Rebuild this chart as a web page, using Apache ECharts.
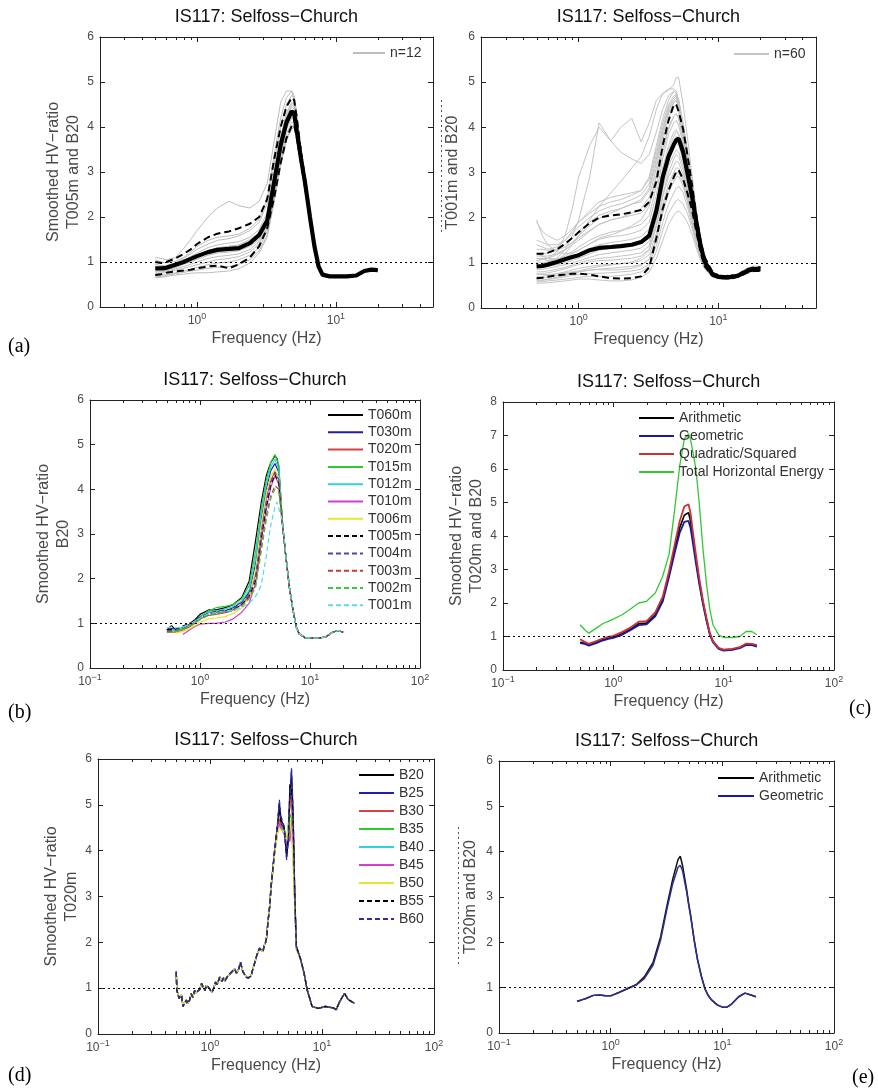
<!DOCTYPE html>
<html><head><meta charset="utf-8">
<script src="https://cdn.jsdelivr.net/npm/echarts@6/dist/echarts.min.js"></script>
<style>html,body{margin:0;padding:0;background:#fff}#c{width:878px;height:1090px}</style>
</head><body><div id="c"></div>
<script>
// ---------- frequency grids ----------
const FA = [0.5,0.55,0.6,0.7,0.8,0.9,1.0,1.2,1.4,1.7,2.0,2.4,2.8,3.2,3.6,4.0,4.4,4.8,5.0,5.2,5.6,6.0,6.5,7.0,7.5,8.0,9,10,12,14,16,18,20];
const FE = [0.5,0.55,0.6,0.7,0.8,0.9,1.0,1.2,1.4,1.7,2.0,2.4,2.8,3.2,3.6,4.0,4.2,4.4,4.8,5.0,5.2,5.6,6.0,6.5,7.0,7.5,8.0,9,10,11,12,14,16,18,20];
const MINOR = [0.2,0.3,0.4,0.5,0.6,0.7,0.8,0.9,2,3,4,5,6,7,8,9,20,30,40,50,60,70,80,90];

// ---------- panel (a): T005m, n=12 ----------
const aMean = [0.86,0.86,0.87,0.94,1.0,1.07,1.13,1.22,1.27,1.29,1.31,1.42,1.6,1.92,2.8,3.6,4.1,4.35,4.3,3.95,3.3,2.75,2.0,1.35,0.9,0.72,0.68,0.68,0.68,0.7,0.8,0.83,0.82];
const aUp   = [1.0,0.98,1.0,1.08,1.18,1.28,1.4,1.55,1.63,1.68,1.75,1.85,2.0,2.4,3.3,4.0,4.45,4.65,4.6,4.25,3.45,2.85,2.05,1.38,0.92,0.73,0.69,0.69,0.69,0.71,0.81,0.84,0.83];
const aLo   = [0.71,0.73,0.76,0.79,0.81,0.83,0.86,0.9,0.92,0.86,0.95,1.1,1.35,1.75,2.45,3.2,3.75,4.02,4.05,3.8,3.2,2.65,1.95,1.32,0.88,0.71,0.67,0.67,0.67,0.69,0.79,0.82,0.81];
const aGray = [
 [1.1,1.08,1.05,1.1,1.3,1.5,1.7,2.0,2.2,2.35,2.25,2.2,2.35,2.75,3.7,4.55,4.8,4.8,4.6,4.3,3.5,2.8,2.0,1.36,0.9,0.72,0.68,0.68,0.68,0.7,0.8,0.83,0.82],
 [0.95,0.92,0.92,0.98,1.08,1.18,1.28,1.4,1.48,1.52,1.58,1.7,1.88,2.3,3.2,4.0,4.5,4.7,4.65,4.3,3.5,2.85,2.05,1.38,0.92,0.72,0.68,0.68,0.68,0.7,0.8,0.83,0.82],
 [0.9,0.88,0.9,0.96,1.04,1.12,1.2,1.32,1.38,1.42,1.45,1.55,1.72,2.1,3.0,3.8,4.3,4.55,4.5,4.2,3.45,2.8,2.0,1.36,0.9,0.72,0.68,0.68,0.68,0.7,0.8,0.83,0.82],
 [0.85,0.84,0.86,0.92,0.98,1.05,1.12,1.22,1.3,1.35,1.36,1.45,1.6,1.95,2.85,3.7,4.2,4.45,4.4,4.1,3.4,2.75,2.0,1.35,0.9,0.72,0.68,0.68,0.68,0.7,0.8,0.83,0.82],
 [0.8,0.8,0.82,0.88,0.95,1.0,1.06,1.15,1.2,1.22,1.25,1.35,1.5,1.85,2.7,3.5,4.05,4.3,4.3,4.05,3.35,2.75,2.0,1.35,0.9,0.72,0.68,0.68,0.68,0.7,0.8,0.83,0.82],
 [0.78,0.78,0.8,0.85,0.9,0.95,1.0,1.08,1.12,1.15,1.18,1.28,1.45,1.8,2.65,3.45,4.0,4.25,4.25,4.0,3.3,2.7,1.98,1.34,0.9,0.72,0.68,0.68,0.68,0.7,0.8,0.83,0.82],
 [0.75,0.75,0.77,0.82,0.86,0.9,0.94,1.0,1.05,1.08,1.12,1.22,1.4,1.75,2.6,3.4,3.95,4.2,4.2,3.95,3.3,2.7,1.98,1.34,0.9,0.72,0.68,0.68,0.68,0.7,0.8,0.83,0.82],
 [0.7,0.7,0.72,0.76,0.8,0.84,0.88,0.94,0.98,1.0,1.05,1.15,1.32,1.68,2.5,3.3,3.85,4.1,4.12,3.9,3.25,2.65,1.95,1.33,0.9,0.72,0.68,0.68,0.68,0.7,0.8,0.83,0.82],
 [0.68,0.68,0.7,0.74,0.77,0.8,0.82,0.86,0.88,0.9,0.95,1.05,1.25,1.6,2.4,3.2,3.75,4.0,4.05,3.85,3.2,2.62,1.93,1.32,0.89,0.71,0.67,0.67,0.67,0.69,0.79,0.82,0.81],
 [0.65,0.66,0.68,0.71,0.73,0.75,0.76,0.76,0.78,0.8,0.85,0.98,1.2,1.55,2.35,3.15,3.7,3.95,4.0,3.8,3.15,2.6,1.92,1.31,0.88,0.7,0.66,0.66,0.66,0.68,0.78,0.81,0.8],
 [1.05,1.0,0.98,1.02,1.1,1.22,1.35,1.48,1.55,1.58,1.62,1.75,1.95,2.4,3.4,4.2,4.65,4.8,4.7,4.35,3.5,2.85,2.05,1.38,0.91,0.72,0.68,0.68,0.68,0.7,0.8,0.83,0.82],
 [0.88,0.86,0.88,0.93,1.0,1.08,1.15,1.25,1.32,1.35,1.38,1.5,1.65,2.0,2.9,3.75,4.25,4.5,4.45,4.15,3.4,2.78,2.0,1.35,0.9,0.72,0.68,0.68,0.68,0.7,0.8,0.83,0.82]
];

// ---------- panel (a2): T001m, n=60 (representative subset of the grey windows) ----------
const a2Mean = [0.92,0.93,0.96,1.02,1.08,1.13,1.17,1.28,1.33,1.35,1.37,1.4,1.46,1.6,2.15,2.9,3.35,3.62,3.72,3.75,3.45,3.0,2.45,1.85,1.35,1.02,0.76,0.69,0.68,0.72,0.82,0.86,0.86];
const a2Up   = [1.2,1.2,1.22,1.3,1.42,1.55,1.68,1.88,2.0,2.05,2.07,2.12,2.17,2.35,2.8,3.6,4.15,4.5,4.5,4.35,3.95,3.4,2.7,2.0,1.45,1.12,0.82,0.72,0.71,0.75,0.86,0.9,0.9];
const a2Lo   = [0.66,0.67,0.69,0.72,0.74,0.76,0.76,0.74,0.7,0.66,0.65,0.66,0.7,0.9,1.55,2.2,2.6,2.9,3.02,3.05,2.85,2.55,2.15,1.65,1.2,0.92,0.72,0.66,0.65,0.69,0.78,0.82,0.82];
const a2Gray = [
 [1.0,1.1,1.05,1.1,1.3,1.6,1.95,2.9,4.1,3.7,4.0,4.2,3.68,4.1,4.6,4.75,4.82,4.95,5.1,5.1,4.5,3.8,2.9,2.1,1.5,1.12,0.8,0.72,0.7,0.75,0.88,0.92,0.9],
 [1.1,1.1,1.1,1.25,1.6,2.2,2.9,3.6,4.0,3.7,3.45,3.3,3.2,3.4,3.9,4.4,4.7,4.8,4.75,4.6,4.1,3.5,2.7,2.0,1.45,1.1,0.8,0.72,0.7,0.75,0.88,0.92,0.9],
 [0.95,0.95,0.98,1.05,1.2,1.4,1.6,1.95,2.25,2.55,2.8,3.1,3.35,3.8,4.4,4.75,4.85,4.85,4.8,4.6,4.05,3.45,2.7,2.0,1.45,1.1,0.8,0.72,0.7,0.75,0.88,0.92,0.9],
 [1.9,1.7,1.6,1.5,1.6,1.75,1.9,2.1,2.25,2.35,2.4,2.5,2.6,2.9,3.6,4.2,4.6,4.8,4.75,4.6,4.0,3.4,2.65,1.95,1.42,1.08,0.8,0.72,0.7,0.75,0.88,0.93,0.92],
 [1.5,1.45,1.4,1.4,1.5,1.65,1.8,2.0,2.15,2.25,2.3,2.4,2.5,2.75,3.4,4.0,4.45,4.65,4.7,4.55,3.95,3.35,2.6,1.9,1.4,1.06,0.78,0.71,0.7,0.74,0.86,0.92,0.9],
 [1.3,1.3,1.28,1.3,1.4,1.55,1.7,1.9,2.05,2.15,2.2,2.3,2.4,2.65,3.3,3.95,4.4,4.6,4.65,4.5,3.9,3.3,2.55,1.88,1.38,1.05,0.78,0.7,0.69,0.74,0.86,0.91,0.9],
 [1.2,1.2,1.22,1.28,1.35,1.45,1.55,1.72,1.85,1.95,2.0,2.1,2.2,2.45,3.1,3.8,4.3,4.55,4.6,4.45,3.85,3.25,2.5,1.85,1.36,1.04,0.78,0.7,0.69,0.74,0.86,0.91,0.9],
 [1.05,1.08,1.1,1.18,1.28,1.4,1.5,1.7,1.85,1.95,2.0,2.05,2.1,2.3,2.95,3.7,4.2,4.45,4.5,4.35,3.8,3.2,2.48,1.83,1.35,1.03,0.77,0.7,0.69,0.73,0.85,0.9,0.89],
 [1.0,1.0,1.02,1.08,1.15,1.25,1.35,1.5,1.6,1.68,1.72,1.78,1.85,2.05,2.7,3.45,3.95,4.25,4.3,4.2,3.7,3.1,2.4,1.8,1.32,1.02,0.77,0.7,0.69,0.73,0.84,0.89,0.88],
 [1.1,1.08,1.05,1.08,1.12,1.2,1.28,1.42,1.52,1.58,1.6,1.65,1.72,1.9,2.5,3.3,3.85,4.1,4.15,4.05,3.6,3.0,2.35,1.76,1.3,1.0,0.76,0.69,0.68,0.73,0.84,0.88,0.87],
 [0.95,0.95,0.96,1.0,1.05,1.12,1.2,1.32,1.4,1.45,1.48,1.52,1.58,1.75,2.35,3.1,3.6,3.9,3.95,3.85,3.45,2.9,2.25,1.7,1.27,0.98,0.75,0.69,0.68,0.72,0.83,0.87,0.86],
 [0.9,0.9,0.92,0.96,1.0,1.05,1.1,1.2,1.28,1.32,1.35,1.4,1.45,1.6,2.2,2.95,3.45,3.7,3.8,3.75,3.35,2.85,2.2,1.66,1.25,0.97,0.75,0.68,0.68,0.72,0.83,0.87,0.86],
 [0.85,0.86,0.88,0.92,0.96,1.0,1.04,1.12,1.18,1.22,1.25,1.28,1.33,1.48,2.05,2.8,3.3,3.55,3.65,3.6,3.25,2.75,2.15,1.62,1.22,0.95,0.74,0.68,0.67,0.72,0.82,0.86,0.85],
 [0.8,0.8,0.82,0.86,0.9,0.95,1.0,1.06,1.1,1.12,1.15,1.18,1.22,1.38,1.95,2.65,3.15,3.4,3.5,3.45,3.15,2.68,2.1,1.58,1.2,0.94,0.74,0.68,0.67,0.71,0.82,0.86,0.85],
 [1.2,1.15,1.1,1.08,1.1,1.15,1.2,1.3,1.35,1.38,1.4,1.42,1.48,1.65,2.25,3.0,3.5,3.8,3.9,3.85,3.45,2.9,2.25,1.68,1.26,0.98,0.75,0.69,0.68,0.72,0.83,0.87,0.86],
 [0.75,0.76,0.78,0.82,0.87,0.92,0.96,1.02,1.05,1.06,1.08,1.1,1.15,1.3,1.85,2.5,3.0,3.3,3.4,3.35,3.05,2.6,2.05,1.55,1.18,0.93,0.73,0.67,0.67,0.71,0.81,0.85,0.84],
 [0.7,0.7,0.72,0.76,0.8,0.84,0.88,0.92,0.95,0.97,0.98,1.0,1.05,1.18,1.65,2.3,2.75,3.0,3.1,3.1,2.85,2.45,1.95,1.5,1.15,0.92,0.73,0.67,0.66,0.7,0.8,0.84,0.83],
 [0.65,0.66,0.68,0.72,0.75,0.78,0.8,0.84,0.86,0.88,0.9,0.92,0.96,1.08,1.5,2.1,2.55,2.8,2.9,2.92,2.7,2.35,1.88,1.45,1.12,0.9,0.72,0.66,0.66,0.7,0.8,0.84,0.83],
 [0.6,0.61,0.63,0.66,0.69,0.72,0.74,0.76,0.77,0.78,0.8,0.82,0.86,0.98,1.38,1.9,2.3,2.55,2.65,2.7,2.55,2.25,1.82,1.42,1.1,0.89,0.71,0.66,0.65,0.7,0.8,0.83,0.82],
 [0.58,0.58,0.6,0.62,0.64,0.66,0.68,0.7,0.7,0.7,0.72,0.75,0.8,0.92,1.25,1.72,2.1,2.3,2.38,2.4,2.3,2.1,1.75,1.38,1.08,0.88,0.7,0.65,0.65,0.69,0.79,0.83,0.82],
 [0.55,0.55,0.56,0.58,0.6,0.62,0.64,0.64,0.62,0.6,0.6,0.62,0.68,0.8,1.1,1.5,1.85,2.05,2.12,2.15,2.05,1.9,1.62,1.3,1.04,0.86,0.69,0.65,0.64,0.69,0.79,0.82,0.81],
 [0.62,0.62,0.64,0.68,0.72,0.76,0.8,0.84,0.85,0.84,0.85,0.88,0.94,1.08,1.55,2.2,2.65,2.9,3.0,3.0,2.78,2.4,1.92,1.47,1.13,0.9,0.72,0.66,0.66,0.7,0.8,0.84,0.83],
 [1.95,1.6,1.4,1.25,1.2,1.22,1.28,1.42,1.55,1.62,1.7,1.82,1.95,2.25,2.9,3.55,4.0,4.25,4.3,4.2,3.7,3.1,2.42,1.8,1.33,1.02,0.77,0.7,0.69,0.73,0.85,0.9,0.89],
 [0.75,0.74,0.74,0.76,0.78,0.8,0.82,0.88,0.92,0.95,0.98,1.02,1.1,1.28,1.8,2.45,2.9,3.15,3.25,3.22,2.95,2.52,2.0,1.53,1.17,0.93,0.73,0.67,0.66,0.71,0.81,0.85,0.84],
 [1.4,1.35,1.3,1.35,1.5,1.7,1.9,2.15,2.35,2.45,2.5,2.55,2.6,2.85,3.5,4.1,4.5,4.7,4.72,4.55,3.95,3.35,2.6,1.9,1.4,1.06,0.78,0.71,0.7,0.74,0.86,0.92,0.9],
 [1.15,1.15,1.15,1.2,1.3,1.45,1.6,1.82,1.98,2.1,2.2,2.3,2.35,2.6,3.2,3.9,4.35,4.55,4.6,4.45,3.9,3.3,2.55,1.87,1.37,1.05,0.78,0.7,0.69,0.74,0.86,0.91,0.9]
];

// ---------- panel (b): window length, B20 ----------
const bNames = ['T060m','T030m','T020m','T015m','T012m','T010m','T006m','T005m','T004m','T003m','T002m','T001m'];
const bVals = [
 [0.85,0.95,0.85,0.9,0.98,1.08,1.2,1.3,1.3,1.35,1.42,1.58,1.95,2.85,3.7,4.3,4.6,4.75,4.7,4.5,3.3,2.55,1.8,1.3,0.92,0.76,0.68,0.67,0.67,0.7,0.8,0.84,0.8],
 [0.86,0.88,0.86,0.9,0.96,1.05,1.15,1.25,1.25,1.28,1.35,1.48,1.7,2.35,3.35,4.0,4.42,4.58,4.55,4.38,3.28,2.55,1.8,1.3,0.92,0.76,0.68,0.67,0.67,0.7,0.8,0.84,0.8],
 [0.8,0.8,0.8,0.85,0.92,1.0,1.1,1.18,1.2,1.24,1.3,1.42,1.62,2.1,3.1,3.8,4.2,4.4,4.4,4.25,3.25,2.55,1.8,1.3,0.92,0.76,0.68,0.67,0.67,0.7,0.8,0.84,0.8],
 [0.82,0.82,0.83,0.88,0.95,1.05,1.15,1.28,1.35,1.38,1.42,1.55,1.85,2.6,3.55,4.2,4.6,4.78,4.75,4.55,3.3,2.56,1.8,1.3,0.92,0.76,0.68,0.67,0.67,0.7,0.8,0.84,0.8],
 [0.85,0.85,0.86,0.9,0.97,1.05,1.15,1.25,1.28,1.32,1.38,1.5,1.75,2.45,3.45,4.1,4.5,4.68,4.65,4.45,3.3,2.55,1.8,1.3,0.92,0.76,0.68,0.67,0.67,0.7,0.8,0.84,0.8],
 [null,null,null,0.75,0.85,0.93,0.98,1.0,1.0,1.03,1.1,1.25,1.45,1.9,2.85,3.55,4.05,4.3,4.28,4.12,3.22,2.54,1.8,1.3,0.92,0.76,0.68,0.66,0.66,0.7,0.8,0.84,0.8],
 [null,null,0.78,0.82,0.88,0.95,1.02,1.1,1.12,1.15,1.22,1.35,1.58,2.2,3.2,3.9,4.3,4.45,4.42,4.25,3.25,2.55,1.8,1.3,0.92,0.76,0.68,0.67,0.67,0.7,0.8,0.84,0.8],
 [0.86,0.86,0.87,0.94,1.0,1.07,1.13,1.22,1.27,1.29,1.31,1.42,1.6,1.95,2.9,3.6,4.1,4.33,4.3,4.15,3.25,2.55,1.8,1.3,0.92,0.76,0.68,0.67,0.67,0.7,0.8,0.84,0.8],
 [0.84,0.84,0.84,0.88,0.95,1.03,1.12,1.22,1.22,1.26,1.32,1.45,1.66,2.0,3.0,3.7,4.15,4.38,4.36,4.22,3.25,2.55,1.8,1.3,0.92,0.76,0.68,0.67,0.67,0.7,0.8,0.84,0.8],
 [0.82,0.82,0.83,0.87,0.94,1.02,1.1,1.2,1.22,1.25,1.28,1.4,1.58,1.85,2.7,3.4,3.85,4.08,4.1,4.0,3.25,2.55,1.8,1.3,0.92,0.76,0.68,0.67,0.67,0.7,0.8,0.84,0.8],
 [0.8,0.8,0.82,0.86,0.93,1.0,1.08,1.18,1.22,1.25,1.28,1.38,1.55,1.8,2.6,3.3,3.8,4.0,4.02,3.95,3.25,2.55,1.8,1.3,0.92,0.76,0.68,0.67,0.67,0.7,0.8,0.84,0.8],
 [0.9,0.92,0.9,0.92,0.98,1.05,1.12,1.22,1.25,1.28,1.3,1.36,1.45,1.6,1.85,2.5,3.2,3.6,3.72,3.75,3.3,2.58,1.82,1.3,0.92,0.76,0.68,0.67,0.67,0.7,0.8,0.84,0.8]
];

// ---------- panel (c): horizontal-component combination ----------
const cNames = ['Arithmetic','Geometric','Quadratic/Squared','Total Horizontal Energy'];
const cVals = [
 [0.83,0.8,0.75,0.82,0.9,0.95,0.98,1.08,1.2,1.38,1.4,1.65,2.1,2.85,3.6,4.25,4.62,4.7,4.45,4.05,3.3,2.65,2.0,1.5,1.08,0.85,0.65,0.6,0.62,0.67,0.77,0.76,0.72],
 [0.8,0.78,0.73,0.8,0.88,0.93,0.96,1.05,1.17,1.34,1.36,1.6,2.04,2.78,3.5,4.1,4.42,4.45,4.25,3.9,3.2,2.58,1.96,1.46,1.05,0.83,0.63,0.58,0.6,0.65,0.75,0.74,0.7],
 [0.92,0.84,0.78,0.86,0.94,0.99,1.02,1.13,1.25,1.44,1.46,1.72,2.18,2.95,3.75,4.45,4.88,4.95,4.7,4.25,3.45,2.75,2.06,1.54,1.1,0.86,0.66,0.61,0.63,0.68,0.79,0.78,0.74],
 [1.35,1.2,1.1,1.25,1.38,1.45,1.52,1.65,1.8,2.0,2.05,2.3,2.8,3.45,4.8,6.1,6.9,7.05,6.9,6.6,6.0,5.0,3.6,2.55,1.8,1.35,1.05,0.97,0.97,1.0,1.15,1.15,1.05]
];

// ---------- panel (d): bandwidth, T020m ----------
const dNames = ['B20','B25','B30','B35','B40','B45','B50','B55','B60'];
const dFreqLow  = [0.5,0.505,0.53,0.556,0.575,0.59,0.616,0.63,0.65,0.66,0.68,0.7,0.73,0.75,0.78,0.81,0.84,0.87,0.9,0.93,0.97,1.0,1.04,1.08,1.12,1.16,1.22,1.28,1.32,1.36,1.42,1.5,1.56,1.66,1.72,1.78,1.82,1.87,1.97,2.04,2.11,2.2,2.33,2.4,2.5,2.62,2.77,2.87,2.97,3.05,3.13,3.2,3.28,3.4,3.51];
const dValsLow  = [1.36,0.96,0.78,0.85,0.6,0.68,0.74,0.66,0.63,0.75,0.88,0.8,0.95,0.9,0.88,0.97,1.1,1.02,0.95,1.06,1.02,0.98,0.91,1.0,1.13,1.08,1.24,1.15,1.22,1.16,1.24,1.31,1.27,1.42,1.33,1.38,1.45,1.57,1.35,1.3,1.24,1.22,1.27,1.4,1.54,1.72,1.87,1.85,1.8,1.93,1.99,2.1,2.41,2.75,3.21];
const dFreqPeak = [3.75,4.02,4.16,4.3,4.6,4.83,5.03,5.17,5.34,5.52,5.71,5.9];
const dValsPeak = [
 [3.9,4.55,4.95,4.6,4.45,3.95,4.4,5.45,5.3,4.5,3.0,1.9],
 [3.95,4.6,5.05,4.7,4.5,3.85,4.3,5.2,5.75,4.85,3.1,1.92],
 [3.9,4.5,4.7,4.55,4.5,4.1,4.5,5.1,5.2,4.3,2.95,1.9],
 [3.9,4.45,4.6,4.5,4.45,4.2,4.65,4.8,4.7,4.1,2.9,1.88],
 [3.88,4.4,4.55,4.55,4.4,4.15,4.55,4.6,4.5,4.0,2.9,1.88],
 [3.88,4.45,4.6,4.5,4.35,4.1,4.3,4.2,4.6,3.9,2.85,1.86],
 [3.85,4.4,4.5,4.45,4.4,4.25,4.5,4.7,4.4,3.7,2.8,1.85],
 [3.92,4.6,5.0,4.65,4.5,3.9,4.35,5.3,5.6,4.7,3.05,1.9],
 [3.94,4.63,5.11,4.75,4.53,3.8,4.26,5.11,5.8,4.9,3.08,1.92]
];
const dFreqHigh = [6.44,6.9,7.38,8.16,9.3,10.7,12.6,13.4,14.2,15.9,17,19.4];
const dValsHigh = [1.63,1.34,0.96,0.6,0.56,0.6,0.57,0.53,0.68,0.89,0.76,0.67];

// ---------- panel (e): Arithmetic vs Geometric ----------
const eArith = [0.7,0.73,0.76,0.83,0.84,0.82,0.82,0.9,0.97,1.07,1.24,1.56,2.12,2.82,3.4,3.82,3.9,3.7,3.15,2.85,2.6,2.05,1.62,1.25,0.97,0.82,0.73,0.62,0.57,0.57,0.63,0.8,0.88,0.84,0.8];
const eGeom  = [0.7,0.73,0.76,0.83,0.84,0.82,0.82,0.9,0.98,1.06,1.2,1.5,2.05,2.75,3.3,3.65,3.7,3.58,3.1,2.82,2.58,2.04,1.61,1.24,0.97,0.82,0.73,0.62,0.57,0.57,0.63,0.8,0.88,0.84,0.8];

// ---------- layout / style ----------
const FONT = 'Liberation Sans, Arial, Helvetica, sans-serif';
const SERIF = 'Liberation Serif, Times New Roman, serif';
const AX = '#222', TXT = '#4a4a4a';
const P = [
 {g:[100,37,333,270], x:[0.2,50],  yMax:6, t:[266.5,17],  yName:'Smoothed HV\u2212ratio\nT005m and B20', yGap:15},
 {g:[481,37,335,271], x:[0.2,50],  yMax:6, t:[648.5,17],  yName:'T001m and B20', yGap:18},
 {g:[90,400,330,268], x:[0.1,100], yMax:6, t:[255,380.5], yName:'Smoothed HV\u2212ratio\nB20', yGap:15},
 {g:[503,402,331,268],x:[0.1,100], yMax:8, t:[668.7,382], yName:'Smoothed HV\u2212ratio\nT020m and B20', yGap:16},
 {g:[98,759,336,275], x:[0.1,100], yMax:6, t:[266,740],   yName:'Smoothed HV\u2212ratio\nT020m', yGap:16},
 {g:[499,761,335,272],x:[0.1,100], yMax:6, t:[666.7,741.5], yName:'T020m and B20', yGap:18}
];
function logLabel(v){
  const e = Math.log10(v), r = Math.round(e);
  if (Math.abs(e - r) > 1e-6) return '';
  return '10{s|' + (r < 0 ? '\u2212' + (-r) : r) + '}';
}
function pts(freq, vals){ const o=[]; for (let i=0;i<freq.length;i++) if (vals[i]!=null) o.push([freq[i], vals[i]]); return o; }

const grids=[], xAxes=[], yAxes=[], series=[];
P.forEach((p,i)=>{
  grids.push({left:p.g[0], top:p.g[1], width:p.g[2], height:p.g[3], show:false, containLabel:false, outerBoundsMode:'none'});
  const axLine = {show:true, onZero:false, lineStyle:{color:AX, width:1}};
  const axTick = {show:true, inside:true, length:5, lineStyle:{color:AX, width:1}};
  xAxes.push({type:'log', logBase:10, gridIndex:i, min:p.x[0], max:p.x[1], position:'bottom',
    axisLine:axLine, axisTick:axTick, splitLine:{show:false},
    axisLabel:{formatter:logLabel, color:TXT, fontSize:12, fontFamily:FONT, margin:5,
      rich:{s:{fontSize:9, color:TXT, fontFamily:FONT, padding:[0,0,8,0]}}},
    name:'Frequency (Hz)', nameLocation:'middle', nameGap:24,
    nameTextStyle:{fontSize:16, color:TXT, fontFamily:FONT}});
  xAxes.push({type:'log', logBase:10, gridIndex:i, min:p.x[0], max:p.x[1], position:'top',
    axisLine:axLine, axisTick:axTick, splitLine:{show:false}, axisLabel:{show:false}});
  yAxes.push({type:'value', gridIndex:i, min:0, max:p.yMax, interval:1, position:'left',
    axisLine:axLine, axisTick:axTick, splitLine:{show:false},
    axisLabel:{color:TXT, fontSize:12, fontFamily:FONT, margin:6},
    name:p.yName, nameLocation:'middle', nameGap:p.yGap,
    nameTextStyle:{fontSize:16, lineHeight:20, color:TXT, fontFamily:FONT}});
  yAxes.push({type:'value', gridIndex:i, min:0, max:p.yMax, interval:1, position:'right',
    axisLine:axLine, axisTick:axTick, splitLine:{show:false}, axisLabel:{show:false}});
  // minor log ticks, bottom and top, plus the y = 1 reference line
  series.push({type:'custom', xAxisIndex:2*i, yAxisIndex:2*i, silent:true, clip:false, z:5,
    data: MINOR.filter(v=>v>p.x[0]*1.001 && v<p.x[1]*0.999).map(v=>[v,0]),
    renderItem:(params, api)=>{
      const cs = params.coordSys; const x = Math.round(api.coord([api.value(0),0])[0]) + 0.5;
      return {type:'group', children:[
        {type:'line', shape:{x1:x, y1:cs.y+cs.height, x2:x, y2:cs.y+cs.height-3}, style:{stroke:AX, lineWidth:1}},
        {type:'line', shape:{x1:x, y1:cs.y, x2:x, y2:cs.y+3}, style:{stroke:AX, lineWidth:1}}
      ]};
    },
    markLine:{silent:true, symbol:['none','none'], label:{show:false}, animation:false,
      lineStyle:{color:'#000', type:[2,3], width:1}, data:[{yAxis:1}]}
  });
});

function line(p, name, freq, vals, color, width, type, z){
  return {type:'line', name, xAxisIndex:2*p, yAxisIndex:2*p, data:pts(freq, vals),
    symbol:'none', showSymbol:false, silent:true, z:z||2,
    lineStyle:{color, width, type:type||'solid'}, itemStyle:{color}, emphasis:{disabled:true}};
}

// (a)
aGray.forEach(v=>series.push(line(0,'n=12',FA,v,'#bdbdbd',1)));
series.push(line(0,'a-up',FA,aUp,'#000',2,[7,4],3));
series.push(line(0,'a-lo',FA,aLo,'#000',2,[7,4],3));
series.push(line(0,'a-mean',FA,aMean,'#000',4.2,'solid',4));
// (a2)
a2Gray.forEach(v=>series.push(line(1,'n=60',FA,v,'#c4c4c4',1)));
series.push(line(1,'a2-up',FA,a2Up,'#000',2,[7,4],3));
series.push(line(1,'a2-lo',FA,a2Lo,'#000',2,[7,4],3));
series.push(line(1,'a2-mean',FA,a2Mean,'#000',4.2,'solid',4));
// (b)
const bCol = ['#000000','#1f1fa8','#d94040','#2fc82f','#2ed3dc','#d43cd4','#e6e62e','#000000','#4a4aa6','#c43c3c','#3fc43f','#5fd8e8'];
bNames.forEach((n,k)=>series.push(line(2,n,FA,bVals[k],bCol[k],1.2,k>=7?[5,3]:'solid')));
// (c)
const cCol = ['#000000','#1a1aa0','#c83232','#33c833'], cW=[1.6,1.8,1.8,1.3];
cNames.forEach((n,k)=>series.push(line(3,n,FA,cVals[k],cCol[k],cW[k])));
// (d)
const dCol = ['#000000','#1f1fa8','#d94040','#2fc82f','#2ed3dc','#d43cd4','#e6e62e','#000000','#2e2e96'];
const dFreq = dFreqLow.concat(dFreqPeak, dFreqHigh);
dNames.forEach((n,k)=>series.push(line(4,n,dFreq,dValsLow.concat(dValsPeak[k], dValsHigh),dCol[k],1.3,k>=7?[5,3]:'solid')));
// (e)
series.push(line(5,'Arithmetic',FE,eArith,'#111111',1.5));
series.push(line(5,'Geometric',FE,eGeom,'#2e2e8e',1.5));

const legBase = {orient:'vertical', padding:0, itemHeight:12, itemGap:4, selectedMode:false,
  itemStyle:{opacity:0, borderWidth:0},
  textStyle:{fontSize:14, color:'#333', fontFamily:FONT}};
const legends = [
  Object.assign({}, legBase, {data:['n=12'], left:352, top:46, itemWidth:32}),
  Object.assign({}, legBase, {data:['n=60'], left:733, top:47, itemWidth:35}),
  Object.assign({}, legBase, {data:bNames, left:327, top:408, itemWidth:35, itemGap:3.3}),
  Object.assign({}, legBase, {data:cNames, left:638, top:411, itemWidth:35}),
  Object.assign({}, legBase, {data:dNames, left:358, top:768, itemWidth:35}),
  Object.assign({}, legBase, {data:['Arithmetic','Geometric'], left:717, top:771, itemWidth:36})
];

const graphic = [];
P.forEach(p=>graphic.push({type:'text', x:p.t[0], y:p.t[1], silent:true,
  style:{text:'IS117: Selfoss\u2212Church', fontSize:18, fontFamily:FONT, fill:'#111', align:'center', verticalAlign:'middle'}}));
[['(a)',8,347],['(b)',8,713],['(c)',849,709],['(d)',8,1076],['(e)',852,1078]].forEach(l=>graphic.push({type:'text', x:l[1], y:l[2], silent:true,
  style:{text:l[0], fontSize:20, fontFamily:SERIF, fill:'#000', align:'left', verticalAlign:'middle'}}));
// clipped remnants of neighbouring labels in the source figure
graphic.push({type:'line', silent:true, shape:{x1:441.5,y1:100,x2:441.5,y2:233}, style:{stroke:'#555', lineWidth:1, lineDash:[2,3]}});
graphic.push({type:'line', silent:true, shape:{x1:458.5,y1:827,x2:458.5,y2:967}, style:{stroke:'#555', lineWidth:1, lineDash:[2,3]}});

const chart = echarts.init(document.getElementById('c'), null, {renderer:'canvas'});
chart.setOption({
  backgroundColor:'#ffffff', animation:false,
  grid:grids, xAxis:xAxes, yAxis:yAxes, legend:legends, series, graphic
});
</script></body></html>
